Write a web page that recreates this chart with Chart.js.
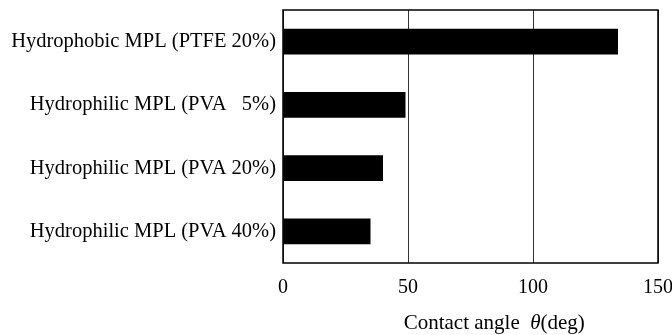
<!DOCTYPE html>
<html>
<head>
<meta charset="utf-8">
<script src="https://cdn.jsdelivr.net/npm/chart.js@4/dist/chart.umd.min.js"></script>
<style>
  html, body { margin: 0; padding: 0; background: #fff; }
  #wrap { width: 672px; height: 335px; }
</style>
</head>
<body>
<div id="wrap"><canvas id="myChart"></canvas></div>
<script>
'use strict';

const categories = [
    'Hydrophobic MPL (PTFE 20%)',
    'Hydrophilic MPL (PVA   5%)',
    'Hydrophilic MPL (PVA 20%)',
    'Hydrophilic MPL (PVA 40%)'
];
const contactAngle = [134, 49, 40, 35];
const xTicks = [0, 50, 100, 150];

const FONT = "'Liberation Serif', 'Times New Roman', serif";

// box round the plot area and the axis title with italic theta
const framePlugin = {
    id: 'frame',
    afterDraw: function(chart){
        const a = chart.chartArea;
        const ctx = chart.ctx;
        ctx.save();
        ctx.strokeStyle = '#000';
        ctx.lineWidth = 1.5;
        ctx.strokeRect(a.left, a.top, a.right - a.left, a.bottom - a.top);

        const y = 323;
        const parts = [
            { t: 'Contact angle  ', f: '21px ' + FONT },
            { t: '\u03b8', f: 'italic 21px ' + FONT },
            { t: '(deg)', f: '21px ' + FONT }
        ];
        var w = 0;
        parts.forEach(p => { ctx.font = p.f; w += ctx.measureText(p.t).width; });
        var x = chart.scales.x.getPixelForValue(84.5) - w / 2;
        ctx.fillStyle = '#000';
        ctx.textBaseline = 'middle';
        parts.forEach(p => {
            ctx.font = p.f;
            ctx.fillText(p.t, x, y);
            x += ctx.measureText(p.t).width;
        });
        ctx.restore();
    }
};

const ctx = document.getElementById('myChart');
var myChart = new Chart(ctx, {
    type: 'bar',
    data: {
        labels: categories,
        datasets: [{
            data: contactAngle,
            backgroundColor: '#000',
            borderWidth: 0,
            barPercentage: 0.82,
            categoryPercentage: 0.5
        }]
    },
    options: {
        indexAxis: 'y',
        responsive: true,
        maintainAspectRatio: false,
        animation: false,
        layout: { padding: { top: 10, bottom: 22, left: 0, right: 14 } },
        plugins: {
            legend: { display: false },
            tooltip: { enabled: false }
        },
        scales: {
            x: {
                min: 0,
                max: 150,
                afterBuildTicks: function(scale){
                    scale.ticks = xTicks.map(v => ({ value: v }));
                },
                afterFit: function(scale){
                    scale.paddingLeft = 0;
                    scale.paddingRight = 0;
                },
                grid: { color: '#333', lineWidth: 1, drawTicks: false },
                border: { display: false },
                ticks: {
                    color: '#000',
                    padding: 13,
                    font: { family: FONT, size: 20 }
                }
            },
            y: {
                afterFit: function(scale){
                    scale.width = 283;
                    scale.paddingTop = 0;
                    scale.paddingBottom = 0;
                },
                grid: { display: false, drawTicks: false },
                border: { display: false },
                ticks: {
                    color: '#000',
                    padding: 7,
                    font: { family: FONT, size: 20.5 }
                }
            }
        }
    },
    plugins: [framePlugin]
});
</script>
</body>
</html>
